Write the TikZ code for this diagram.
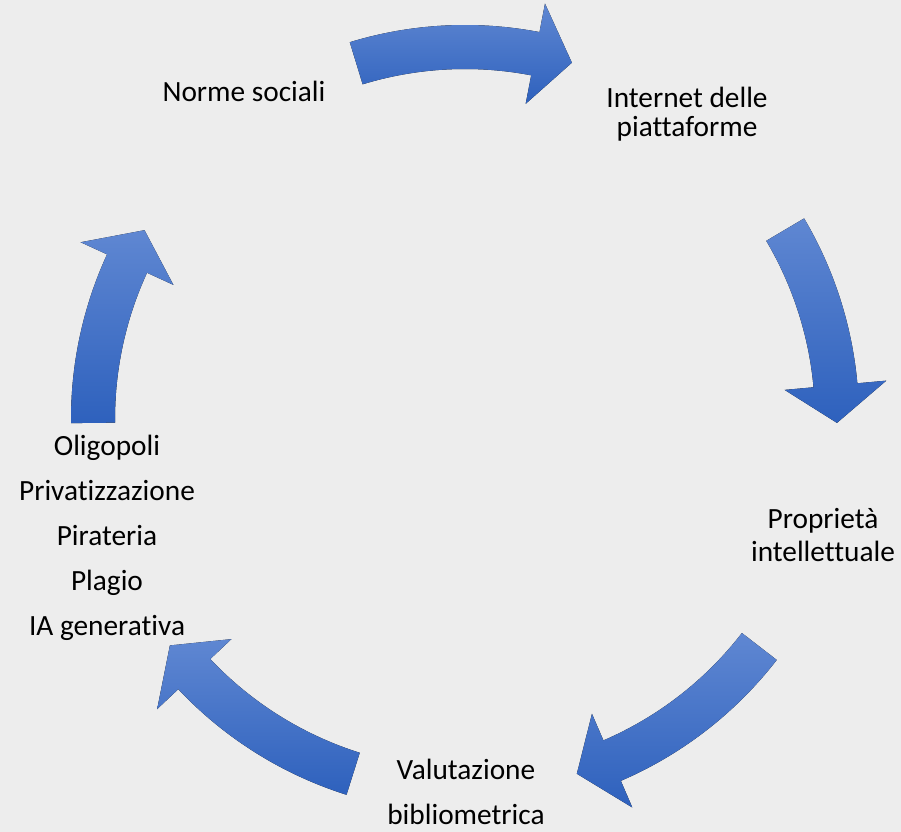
\documentclass[tikz,border=0pt]{standalone}
\usepackage{fontspec}
\setmainfont{Carlito}[Ligatures=NoCommon]
\definecolor{bgcolor}{HTML}{EDEDED}
\definecolor{arrowtop}{HTML}{5F87D2}
\definecolor{arrowbottom}{HTML}{2E61BD}
\tikzset{
  blockarrow/.style={top color=arrowtop, bottom color=arrowbottom, draw=none},
  cyclelabel/.style={font=\fontsize{22}{#1}\selectfont, align=center, anchor=base, inner sep=0pt},
  cyclelabel/.default=25pt
}
% curved block arrow round (c): tail angle, tip angle
\newcommand{\cyclearrow}[2]{%
  \fill[blockarrow, shift={(c)}] (#1:350) arc[start angle=#1, end angle=#2+5.8, radius=350]
    -- (#2+5.8:321) -- (#2:372) -- (#2+5.8:423) -- (#2+5.8:394)
    arc[start angle=#2+5.8, end angle=#1, radius=394] -- cycle;}

\begin{document}
\begin{tikzpicture}[x=0.75pt, y=0.75pt]
  \fill[bgcolor] (0,0) rectangle (901,832);
  \useasboundingbox (0,0) rectangle (901,832);
  \coordinate (c) at (465,413);

  % labels, anchored at the baseline of their last line
  \node[cyclelabel] (norme) at (244,730) {Norme sociali};
  \node[cyclelabel=21.75pt] (internet) at (687,695) {Internet delle\\piattaforme};
  \node[cyclelabel=24.75pt] (proprieta) at (823,270) {Propriet\`a\\intellettuale};
  \node[cyclelabel=33.75pt] (valutazione) at (466,7) {Valutazione\\bibliometrica};
  \node[cyclelabel=33.75pt] (oligopoli) at (107,196) {Oligopoli\\Privatizzazione\\Pirateria\\Plagio\\IA generativa};

  \cyclearrow{107.0}{73.3}
  \cyclearrow{30.6}{-0.6}
  \cyclearrow{-37.7}{-72.5}
  \cyclearrow{-107.5}{-142.5}
  \cyclearrow{180.6}{149.5}
\end{tikzpicture}
\end{document}
